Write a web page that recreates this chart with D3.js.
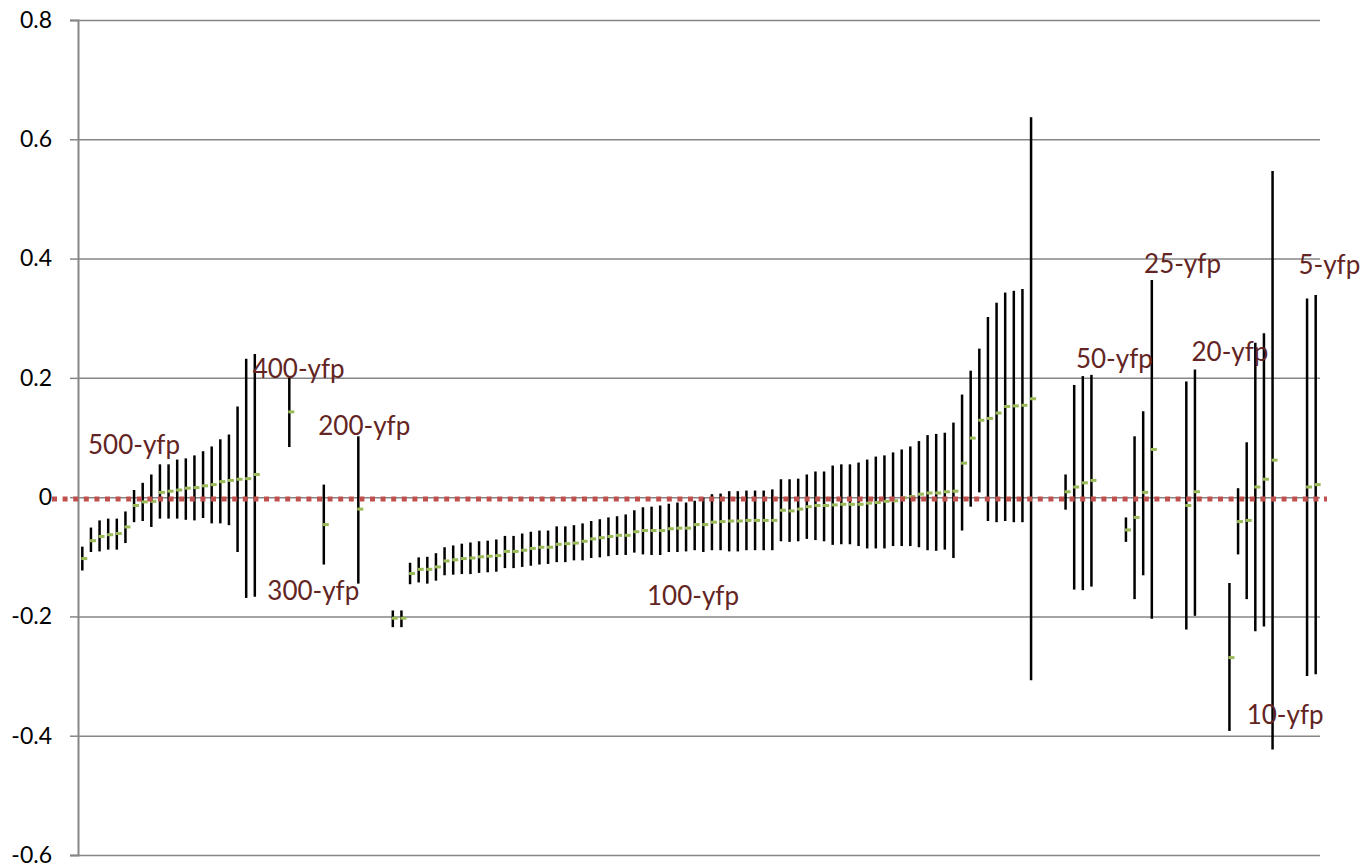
<!DOCTYPE html>
<html>
<head>
<meta charset="utf-8">
<script src="https://cdn.jsdelivr.net/npm/d3@7"></script>
<style>
  html, body { margin: 0; padding: 0; background: #fff; }
  svg { display: block; font-family: Lato, "Open Sans", sans-serif; }
</style>
</head>
<body>
<script>
// category slots on the x axis (144 slots, some left empty between groups)
const slotCount = 144;

// category index of each error bar
const cats = [
  0, 1, 2, 3, 4, 5, 6, 7, 8, 9, 10, 11, 12, 13, 14, 15, 16, 17, 18, 19, 20,
  24, 28, 32, 36, 37,
  38, 39, 40, 41, 42, 43, 44, 45, 46, 47, 48, 49, 50, 51, 52, 53, 54, 55, 56, 57, 58, 59,
  60, 61, 62, 63, 64, 65, 66, 67, 68, 69, 70, 71, 72, 73, 74, 75, 76, 77, 78, 79,
  80, 81, 82, 83, 84, 85, 86, 87, 88, 89, 90, 91, 92, 93, 94, 95, 96, 97, 98, 99,
  100, 101, 102, 103, 104, 105, 106, 107, 108, 109, 110,
  114, 115, 116, 117, 121, 122, 123, 124, 128, 129,
  133, 134, 135, 136, 137, 138, 142, 143
];

// mean value (green marker)
const means = [
  -0.103, -0.073, -0.066, -0.063, -0.061, -0.050, -0.014, -0.008, -0.007, 0.008, 0.010,
  0.012, 0.015, 0.016, 0.019, 0.021, 0.026, 0.028, 0.030, 0.031, 0.038,
  0.143, -0.046, -0.020, -0.203, -0.203,
  -0.128, -0.121, -0.121, -0.117, -0.107, -0.105, -0.103, -0.102, -0.100, -0.099, -0.098, -0.091,
  -0.091, -0.089, -0.086, -0.084, -0.084, -0.079, -0.078, -0.077, -0.074, -0.070,
  -0.068, -0.066, -0.064, -0.064, -0.058, -0.056, -0.056, -0.056, -0.053, -0.052,
  -0.052, -0.046, -0.046, -0.042, -0.041, -0.040, -0.040, -0.039, -0.039, -0.039,
  -0.039, -0.022, -0.023, -0.020, -0.016, -0.014, -0.014, -0.013, -0.012, -0.012,
  -0.012, -0.010, -0.009, -0.007, -0.006, -0.001, 0.001, 0.005, 0.007, 0.007,
  0.009, 0.010, 0.057, 0.099, 0.129, 0.132, 0.141, 0.152, 0.153, 0.154, 0.165,
  0.009, 0.017, 0.024, 0.028, -0.055, -0.034, 0.008, 0.080, -0.014, 0.009,
  -0.269, -0.041, -0.039, 0.017, 0.030, 0.062, 0.017, 0.021
];

// lower end of each error bar
const lows = [
  -0.123, -0.092, -0.091, -0.088, -0.088, -0.077, -0.042, -0.040, -0.050, -0.036, -0.036,
  -0.036, -0.038, -0.039, -0.035, -0.044, -0.044, -0.047, -0.092, -0.169, -0.167,
  0.084, -0.113, -0.145, -0.218, -0.218,
  -0.146, -0.143, -0.145, -0.140, -0.131, -0.130, -0.129, -0.129, -0.127, -0.126, -0.125, -0.119,
  -0.119, -0.117, -0.115, -0.113, -0.112, -0.109, -0.109, -0.106, -0.106, -0.102,
  -0.101, -0.099, -0.097, -0.097, -0.093, -0.096, -0.097, -0.097, -0.092, -0.092,
  -0.091, -0.089, -0.092, -0.089, -0.089, -0.091, -0.091, -0.089, -0.089, -0.089,
  -0.089, -0.074, -0.075, -0.074, -0.070, -0.072, -0.074, -0.080, -0.079, -0.079,
  -0.082, -0.086, -0.086, -0.086, -0.082, -0.082, -0.082, -0.084, -0.089, -0.090,
  -0.088, -0.102, -0.056, -0.016, 0.008, -0.040, -0.042, -0.040, -0.042, -0.042, -0.307,
  -0.021, -0.155, -0.156, -0.150, -0.075, -0.171, -0.131, -0.204, -0.222, -0.199,
  -0.392, -0.096, -0.171, -0.225, -0.217, -0.423, -0.300, -0.297
];

// upper end of each error bar
const highs = [
  -0.083, -0.051, -0.039, -0.036, -0.036, -0.024, 0.012, 0.024, 0.038, 0.055, 0.055,
  0.063, 0.065, 0.070, 0.077, 0.085, 0.097, 0.105, 0.152, 0.232, 0.240,
  0.200, 0.021, 0.102, -0.190, -0.190,
  -0.110, -0.101, -0.100, -0.094, -0.084, -0.081, -0.078, -0.076, -0.074, -0.073, -0.071, -0.065,
  -0.065, -0.061, -0.058, -0.056, -0.056, -0.049, -0.049, -0.047, -0.044, -0.040,
  -0.037, -0.034, -0.032, -0.029, -0.022, -0.017, -0.016, -0.014, -0.011, -0.009,
  -0.009, -0.006, -0.001, 0.005, 0.006, 0.010, 0.010, 0.011, 0.011, 0.011,
  0.013, 0.030, 0.030, 0.031, 0.038, 0.043, 0.043, 0.053, 0.055, 0.055,
  0.058, 0.063, 0.068, 0.070, 0.075, 0.080, 0.085, 0.094, 0.104, 0.106,
  0.108, 0.125, 0.172, 0.212, 0.249, 0.302, 0.326, 0.343, 0.346, 0.349, 0.637,
  0.038, 0.188, 0.203, 0.205, -0.034, 0.102, 0.144, 0.364, 0.194, 0.214,
  -0.144, 0.015, 0.092, 0.259, 0.275, 0.547, 0.333, 0.339
];

// group labels: text, category position where the text starts, baseline value
const labelNames = ['500-yfp', '400-yfp', '200-yfp', '300-yfp', '100-yfp',
  '50-yfp', '25-yfp', '20-yfp', '5-yfp', '10-yfp'];
const labelCats = [1.16, 20.25, 27.86, 21.95, 65.97, 115.7, 123.6, 129.1, 141.5, 135.5];
const labelVals = [0.072, 0.2, 0.105, -0.172, -0.18, 0.216, 0.375, 0.229, 0.374, -0.381];

const yTicks = [-0.6, -0.4, -0.2, 0, 0.2, 0.4, 0.6, 0.8];
const refValue = -0.003; // red dotted reference line

const width = 1365;
const height = 867;
const plotLeft = 78;
const plotRight = 1320;

const svg = d3.select('body')
  .append('svg')
  .attr('width', width)
  .attr('height', height);

const x = d3.scaleBand()
  .domain(d3.range(slotCount))
  .range([plotLeft, plotRight])
  .padding(0);
const xPos = d3.scaleLinear()
  .domain([0, slotCount])
  .range([plotLeft, plotRight]);
const y = d3.scaleLinear()
  .domain([-0.6, 0.8])
  .range([855, 20]);

const fmt = (d) => String(+d.toFixed(1));

// gridlines
svg.append('g')
  .attr('transform', `translate(${plotLeft},0)`)
  .call(d3.axisLeft(y).tickValues(yTicks).tickSize(-(plotRight - plotLeft)).tickFormat(''))
  .call((g) => g.select('.domain').remove())
  .call((g) => g.selectAll('line').attr('stroke', '#868686').attr('stroke-width', 1.5));

// y axis with labels
svg.append('g')
  .attr('transform', `translate(${plotLeft},0)`)
  .call(d3.axisLeft(y).tickValues(yTicks).tickSize(8).tickPadding(18).tickFormat(fmt))
  .call((g) => g.select('.domain').attr('stroke', '#868686').attr('stroke-width', 2))
  .call((g) => g.selectAll('line').attr('stroke', '#868686').attr('stroke-width', 1.5))
  .call((g) => g.selectAll('text')
    .attr('fill', '#000')
    .style('font-family', 'Lato, "Open Sans", sans-serif')
    .style('font-size', '23px'));

const rows = cats.map((c, i) => ({ c, mean: means[i], low: lows[i], high: highs[i] }));

// error bars
svg.append('g')
  .attr('stroke', '#000')
  .attr('stroke-width', 2.5)
  .selectAll('line')
  .data(rows)
  .join('line')
  .attr('x1', (d) => x(d.c) + x.bandwidth() / 2)
  .attr('x2', (d) => x(d.c) + x.bandwidth() / 2)
  .attr('y1', (d) => y(d.high))
  .attr('y2', (d) => y(d.low));

// mean markers
svg.append('g')
  .attr('fill', '#9BBB59')
  .selectAll('rect')
  .data(rows)
  .join('rect')
  .attr('x', (d) => x(d.c) + x.bandwidth() / 2 - 1)
  .attr('y', (d) => y(d.mean) - 1.5)
  .attr('width', 6)
  .attr('height', 3);

// red dotted reference line
svg.append('line')
  .attr('x1', 52)
  .attr('x2', 1327)
  .attr('y1', y(refValue))
  .attr('y2', y(refValue))
  .attr('stroke', '#C0504D')
  .attr('stroke-width', 5)
  .attr('stroke-dasharray', '5,5.6');

// group labels
svg.append('g')
  .selectAll('text')
  .data(labelNames)
  .join('text')
  .attr('x', (d, i) => xPos(labelCats[i]))
  .attr('y', (d, i) => y(labelVals[i]))
  .attr('fill', '#632523')
  .style('font-size', '26px')
  .text((d) => d);
</script>
</body>
</html>
